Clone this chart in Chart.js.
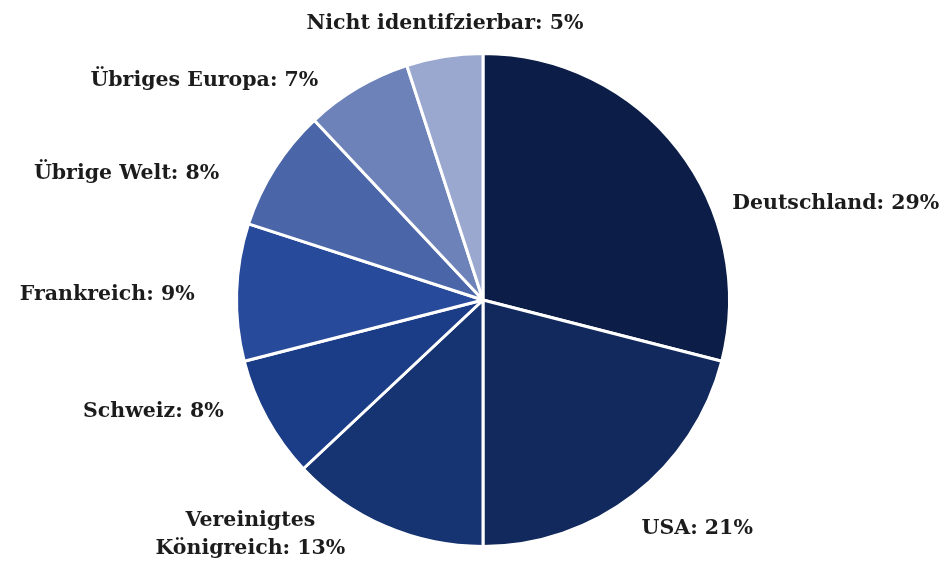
<!DOCTYPE html>
<html>
<head>
<meta charset="utf-8">
<script src="https://cdn.jsdelivr.net/npm/chart.js@4/dist/chart.umd.min.js"></script>
<style>
  html, body { margin: 0; padding: 0; background: #fff; }
  #wrap { width: 950px; height: 570px; position: relative; }
</style>
</head>
<body>
<div id="wrap"><canvas id="pie"></canvas></div>
<script>
// Herkunft – Anteile in Prozent, im Uhrzeigersinn ab 12 Uhr
const categories = ['Deutschland', 'USA', ['Vereinigtes', 'Königreich'], 'Schweiz', 'Frankreich', 'Übrige Welt', 'Übriges Europa', 'Nicht identifzierbar'];
const shares = [29, 21, 13, 8, 9, 8, 7, 5];
const sliceColors = ['#0c1d48', '#12295d', '#163372', '#1b3c86', '#284a9a', '#4a66a8', '#6c82b8', '#9aa8d0'];

// label layout: nudge (px) from the slice's mid-angle anchor
const labelNudge = [[37, 68], [-6, 17], [-126, -12], [-24, -18], [-20, 3], [-37, 18], [-28, 12], [4, -11]];
const labelAlign = ['left', 'left', 'center', 'right', 'right', 'right', 'right', 'center'];

const sliceLabels = {
  id: 'sliceLabels',
  afterDatasetsDraw(chart) {
    const { ctx } = chart;
    const meta = chart.getDatasetMeta(0);
    ctx.save();
    ctx.font = 'bold 20.5px "DejaVu Serif", serif';
    ctx.fillStyle = '#1c1c1c';
    ctx.textBaseline = 'middle';
    meta.data.forEach((arc, i) => {
      const mid = (arc.startAngle + arc.endAngle) / 2;
      const r = arc.outerRadius + 22;
      const x = arc.x + Math.cos(mid) * r + labelNudge[i][0];
      const y = arc.y + Math.sin(mid) * r + labelNudge[i][1];
      ctx.textAlign = labelAlign[i];
      const name = categories[i];
      const pct = ': ' + shares[i] + '%';
      if (Array.isArray(name)) {
        ctx.fillText(name[0], x, y - 14);
        ctx.fillText(name[1] + pct, x, y + 14);
      } else {
        ctx.fillText(name + pct, x, y);
      }
    });
    ctx.restore();
  }
};

new Chart(document.getElementById('pie'), {
  type: 'pie',
  data: {
    labels: categories.map(c => Array.isArray(c) ? c.join(' ') : c),
    datasets: [{
      data: shares,
      backgroundColor: sliceColors,
      borderColor: '#ffffff',
      borderWidth: 3
    }]
  },
  options: {
    responsive: true,
    maintainAspectRatio: false,
    animation: false,
    layout: { padding: { top: 52, bottom: 22, left: 16, right: 0 } },
    plugins: {
      legend: { display: false },
      tooltip: { enabled: false }
    }
  },
  plugins: [sliceLabels]
});
</script>
</body>
</html>
